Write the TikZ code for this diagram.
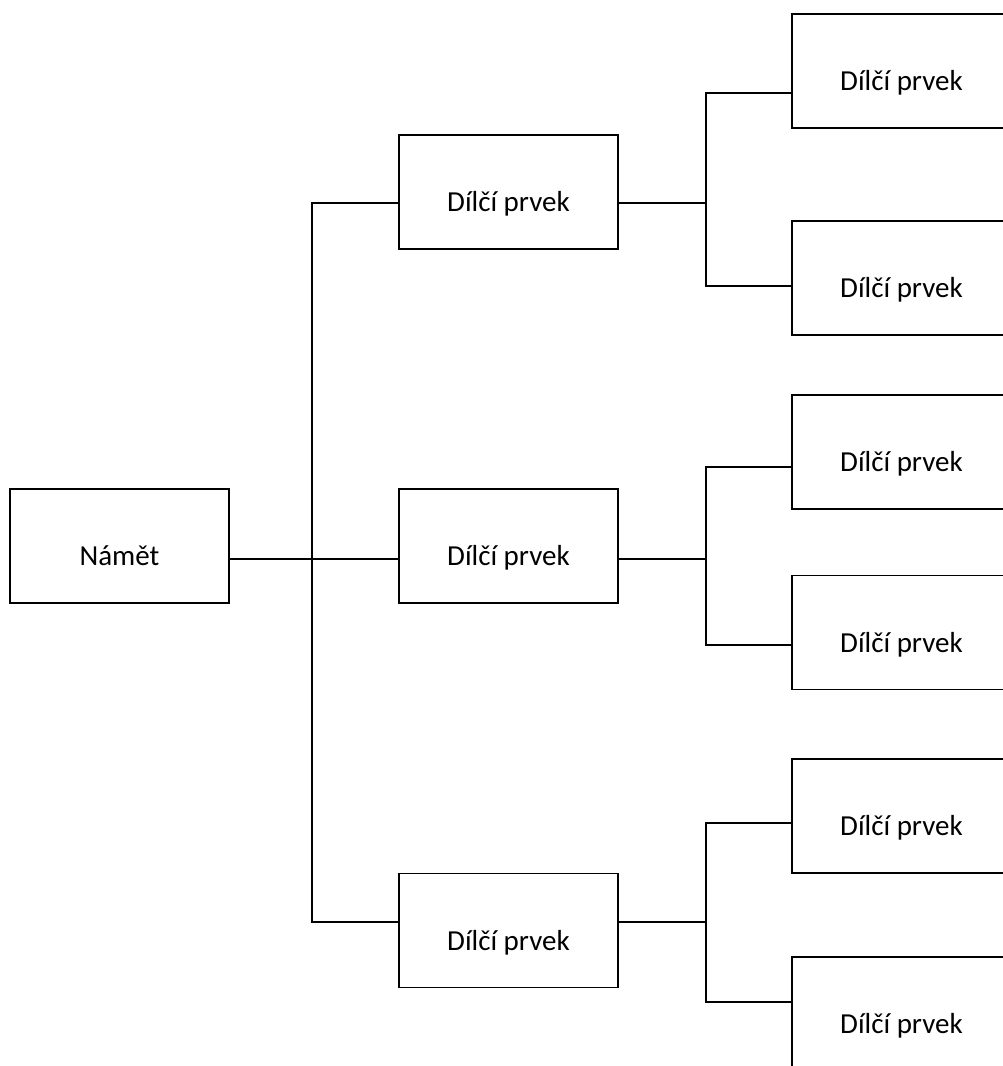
\documentclass[tikz,border=0pt]{standalone}
\usepackage{fontspec}
\setmainfont{Carlito}
\begin{document}
\begin{tikzpicture}[x=1pt,y=-1pt,
  box/.style={draw=black,line width=1.3pt,rectangle,inner sep=0pt,
    minimum width=219pt,minimum height=114pt,
    text height=39pt,text depth=0pt,
    font=\fontsize{29}{35}\selectfont},
  link/.style={draw=black,line width=1.3pt,line cap=rect}]
\clip (0,0) rectangle (1003,1066);
\fill[white] (0,0) rectangle (1003,1066);

% root
\node[box] (root) at (119.5,546) {Námět};

% second level
\node[box] (m1) at (508.5,192) {Dílčí prvek};
\node[box] (m2) at (508.5,546) {Dílčí prvek};
\node[box] (m3) at (508.5,930.5) {Dílčí prvek};

% third level
\node[box] (r1) at (901.5,71) {Dílčí prvek};
\node[box] (r2) at (901.5,278) {Dílčí prvek};
\node[box] (r3) at (901.5,452) {Dílčí prvek};
\node[box] (r4) at (901.5,632.5) {Dílčí prvek};
\node[box] (r5) at (901.5,816) {Dílčí prvek};
\node[box] (r6) at (901.5,1014) {Dílčí prvek};

% trunk from the root
\coordinate (t1) at (312,203);
\coordinate (t2) at (312,559);
\coordinate (t3) at (312,922);
\draw[link] (root.east |- t2) -- (m2.west |- t2);
\draw[link] (t1) -- (t3);
\draw[link] (t1) -- (m1.west |- t1);
\draw[link] (t3) -- (m3.west |- t3);

% branches of the first group
\coordinate (a0) at (706,203);
\coordinate (a1) at (706,93);
\coordinate (a2) at (706,286);
\draw[link] (m1.east |- a0) -- (a0);
\draw[link] (a1) -- (a2);
\draw[link] (a1) -- (r1.west |- a1);
\draw[link] (a2) -- (r2.west |- a2);

% branches of the second group
\coordinate (b0) at (706,559);
\coordinate (b1) at (706,467);
\coordinate (b2) at (706,645);
\draw[link] (m2.east |- b0) -- (b0);
\draw[link] (b1) -- (b2);
\draw[link] (b1) -- (r3.west |- b1);
\draw[link] (b2) -- (r4.west |- b2);

% branches of the third group
\coordinate (c0) at (706,922);
\coordinate (c1) at (706,823);
\coordinate (c2) at (706,1002);
\draw[link] (m3.east |- c0) -- (c0);
\draw[link] (c1) -- (c2);
\draw[link] (c1) -- (r5.west |- c1);
\draw[link] (c2) -- (r6.west |- c2);
\end{tikzpicture}
\end{document}
